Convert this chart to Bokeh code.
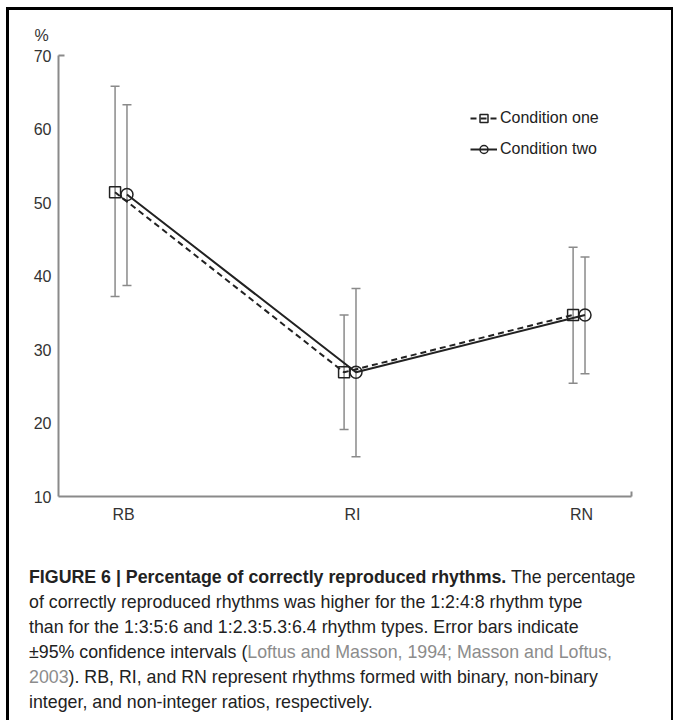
from bokeh.plotting import figure
from bokeh.models import (ColumnDataSource, Whisker, TeeHead, Legend, LegendItem,
                          FixedTicker, Title, Div, Range1d, Spacer)
from bokeh.layouts import column, row
from bokeh.embed import file_html
from bokeh.resources import INLINE

# ---- data ----
categories = ["RB", "RI", "RN"]
cond_one_mean = [51.4, 26.9, 34.7]
cond_one_upper = [65.8, 34.7, 43.9]
cond_one_lower = [37.2, 19.1, 25.4]
cond_two_mean = [51.1, 26.9, 34.7]
cond_two_upper = [63.3, 38.3, 42.6]
cond_two_lower = [38.7, 15.4, 26.7]
y_ticks = [10, 20, 30, 40, 50, 60, 70]
series_names = ["Condition one", "Condition two"]

# ---- styles ----
FONT = "Liberation Sans"
AXIS_GRAY = "#8a8a8a"
INK = "#222222"
X_START, X_END = -0.284, 2.218
Y_START, Y_END = 10, 70
DODGE_ONE, DODGE_TWO = -0.037, 0.015

base = list(range(len(categories)))
src_one = ColumnDataSource(dict(x=[b + DODGE_ONE for b in base], mean=cond_one_mean,
                                upper=cond_one_upper, lower=cond_one_lower))
src_two = ColumnDataSource(dict(x=[b + DODGE_TWO for b in base], mean=cond_two_mean,
                                upper=cond_two_upper, lower=cond_two_lower))

p = figure(width=652, height=542, x_range=Range1d(X_START, X_END),
           y_range=Range1d(Y_START, Y_END), output_backend="svg",
           toolbar_location=None, min_border_left=49, min_border_right=30,
           min_border_top=45, min_border_bottom=56)
p.outline_line_color = None
p.xgrid.visible = False
p.ygrid.visible = False
p.background_fill_color = "white"
p.border_fill_color = "white"

# y axis
p.yaxis.ticker = FixedTicker(ticks=y_ticks, minor_ticks=[Y_END])
p.yaxis.major_tick_in = 0
p.yaxis.major_tick_out = 0
p.yaxis.minor_tick_in = 6
p.yaxis.minor_tick_out = 0
p.yaxis.minor_tick_line_color = AXIS_GRAY
p.yaxis.minor_tick_line_width = 2
p.yaxis.axis_line_color = AXIS_GRAY
p.yaxis.axis_line_width = 2
p.yaxis.major_label_text_font = FONT
p.yaxis.major_label_text_font_size = "16px"
p.yaxis.major_label_text_color = "#333333"
p.yaxis.major_label_standoff = 7

# x axis
p.xaxis.ticker = FixedTicker(ticks=base, minor_ticks=[X_END])
p.xaxis.major_label_overrides = {b: c for b, c in zip(base, categories)}
p.xaxis.major_tick_in = 0
p.xaxis.major_tick_out = 0
p.xaxis.minor_tick_in = 5
p.xaxis.minor_tick_out = 0
p.xaxis.minor_tick_line_color = AXIS_GRAY
p.xaxis.minor_tick_line_width = 2
p.xaxis.axis_line_color = AXIS_GRAY
p.xaxis.axis_line_width = 2
p.xaxis.major_label_text_font = FONT
p.xaxis.major_label_text_font_size = "16px"
p.xaxis.major_label_text_color = "#333333"
p.xaxis.major_label_standoff = 9

# "%" unit label above the y axis
p.add_layout(Title(text="%", align="left", offset=-24, standoff=24,
                   vertical_align="bottom", text_font=FONT, text_font_size="16px",
                   text_font_style="normal", text_color="#333333"), "above")

# error bars
for src in (src_one, src_two):
    p.add_layout(Whisker(source=src, base="x", upper="upper", lower="lower",
                         line_color=AXIS_GRAY, line_width=1.5,
                         upper_head=TeeHead(size=9, line_color=AXIS_GRAY, line_width=1.5),
                         lower_head=TeeHead(size=9, line_color=AXIS_GRAY, line_width=1.5)))

l1 = p.line("x", "mean", source=src_one, line_color=INK, line_width=2, line_dash="6 4")
s1 = p.scatter("x", "mean", source=src_one, marker="square", size=11,
               fill_color=None, line_color=INK, line_width=1.5)
l2 = p.line("x", "mean", source=src_two, line_color=INK, line_width=2)
s2 = p.scatter("x", "mean", source=src_two, marker="circle", size=12,
               fill_color=None, line_color=INK, line_width=1.5)

legend = Legend(items=[LegendItem(label=series_names[0], renderers=[l1, s1]),
                       LegendItem(label=series_names[1], renderers=[l2, s2])],
                location=(412, 337), border_line_color=None, background_fill_alpha=0,
                padding=0, spacing=11, glyph_width=27, glyph_height=20,
                label_height=20, label_standoff=3, margin=0,
                label_text_font=FONT, label_text_font_size="16px",
                label_text_color=INK)
p.add_layout(legend)

gray = "#8c8c8c"
caption_html = (
    '<div style="font-family:\'Liberation Sans\',sans-serif;'
    'font-size:17.8px;line-height:25px;color:#222;white-space:nowrap;'
    'padding:8px 0 0 15px;">'
    '<b>FIGURE 6 | Percentage of correctly reproduced rhythms.</b> The percentage<br>'
    'of correctly reproduced rhythms was higher for the 1:2:4:8 rhythm type<br>'
    'than for the 1:3:5:6 and 1:2.3:5.3:6.4 rhythm types. Error bars indicate<br>'
    '\u00b195% confidence intervals (<span style="color:' + gray + '">Loftus and Masson, 1994; '
    'Masson and Loftus,</span><br>'
    '<span style="color:' + gray + '">2003</span>). RB, RI, and RN represent rhythms formed '
    'with binary, non-binary<br>'
    'integer, and non-integer ratios, respectively.'
    '</div>'
)
caption = Div(text=caption_html, width=652)

framed = column(p, caption,
                styles={"border-top": "3px solid #000", "border-left": "3px solid #000",
                        "border-right": "3px solid #000"})

layout = column(Spacer(height=7), row(Spacer(width=6), framed))

open("out.html", "w").write(file_html(layout, INLINE))
